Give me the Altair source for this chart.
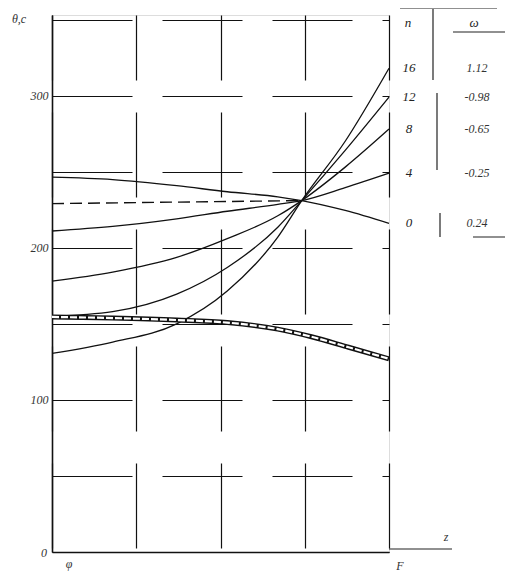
import altair as alt
import pandas as pd

# shared x samples (relative position along the axis)
x_pts = [0, 0.18, 0.37, 0.52, 0.67, 0.741, 0.87, 1.0]

# curves labelled by n
n_labels = ["16", "12", "8", "4", "0"]
w_labels = ["1.12", "-0.98", "-0.65", "-0.25", "0.24"]
curve_16 = [130.5, 138, 150, 171.5, 207, 231, 270, 318]
curve_12 = [155, 158, 169.5, 187, 213.5, 231, 264, 299]
curve_8 = [178, 184, 193.7, 206, 221, 231, 253, 278]
curve_4 = [211, 214, 219, 224, 228.5, 231, 239.5, 249]
curve_0 = [246.4, 244.8, 240.8, 236.8, 233.5, 231, 224.5, 216]

# double (hatched) curve
band_x = [0, 0.18, 0.37, 0.52, 0.67, 0.77, 0.88, 1.0]
band_y = [154.5, 153.8, 152.5, 150.8, 146.5, 141.5, 134.6, 127]

# dashed reference line
dash_x = [0, 0.741]
dash_y = [229, 231]

y_ticks = [0, 50, 100, 150, 200, 250, 300, 350]
x_ticks = [0, 0.25, 0.5, 0.75, 1.0]

curves = [curve_16, curve_12, curve_8, curve_4, curve_0]
rows = []
for lab, ys in zip(n_labels, curves):
    for xv, yv in zip(x_pts, ys):
        rows.append({"x": xv, "y": yv, "n": lab})
df = pd.DataFrame(rows)
band = pd.DataFrame({"x": band_x, "y": band_y})
dash = pd.DataFrame({"x": dash_x, "y": dash_y})
labels = pd.DataFrame({"n": n_labels, "w": w_labels, "y": [c[-1] for c in curves]})

FONT = "Liberation Serif"
xs = alt.Scale(domain=[0, 1], nice=False, zero=False)
ys = alt.Scale(domain=[0, 353], nice=False)

xax = alt.Axis(values=x_ticks, labels=False, ticks=False, title=None,
               grid=True, gridColor="#111", gridWidth=1.2, gridDash=[85, 32],
               gridDashOffset=20, domainColor="#111", domainWidth=1.5)
yax = alt.Axis(values=y_ticks, title=None, ticks=False, labelPadding=4,
               labelExpr="(datum.value == 100 || datum.value == 200 || datum.value == 300) ? datum.value : ''",
               labelFont=FONT, labelFontStyle="italic", labelFontSize=12, labelColor="#333",
               grid=True, gridColor="#111", gridWidth=1.2, gridDash=[80, 30],
               gridDashOffset=0, domainColor="#111", domainWidth=1.6)

base = alt.Chart(df).mark_line(color="#111", strokeWidth=1.3, interpolate="monotone").encode(
    x=alt.X("x:Q", scale=xs, axis=xax),
    y=alt.Y("y:Q", scale=ys, axis=yax),
    detail="n:N",
)

dashed = alt.Chart(dash).mark_line(color="#111", strokeWidth=1.4, strokeDash=[12, 6]).encode(
    x=alt.X("x:Q", scale=xs), y=alt.Y("y:Q", scale=ys))

band_outer = alt.Chart(band).mark_line(color="#111", strokeWidth=5, interpolate="monotone").encode(
    x=alt.X("x:Q", scale=xs), y=alt.Y("y:Q", scale=ys))
band_inner = alt.Chart(band).mark_line(color="#fff", strokeWidth=2.2, strokeDash=[7, 2],
                                      interpolate="monotone").encode(
    x=alt.X("x:Q", scale=xs), y=alt.Y("y:Q", scale=ys))

n_text = alt.Chart(labels).mark_text(font=FONT, fontStyle="italic", fontSize=13, align="center",
                                     baseline="middle", color="#222").encode(
    x=alt.value(357), y=alt.Y("y:Q", scale=ys), text="n:N")
w_text = alt.Chart(labels).mark_text(font=FONT, fontStyle="italic", fontSize=12, align="center",
                                     baseline="middle", color="#333").encode(
    x=alt.value(425), y=alt.Y("y:Q", scale=ys), text="w:N")

head = pd.DataFrame({"t": ["n", "ω"], "px": [356, 422]})
head_text = alt.Chart(head).mark_text(font=FONT, fontStyle="italic", fontSize=13, baseline="middle",
                                      color="#222").encode(
    x=alt.X("px:Q", scale=None), y=alt.value(8), text="t:N")

# table rules
rules = pd.DataFrame({"x1": [381, 385, 388, 348, 401, 421, 337],
                      "x2": [381, 385, 388, 445, 461, 461, 400],
                      "y1": [-6, 78, 198, -7, 17, 222, 534],
                      "y2": [65, 155, 222, -7, 17, 222, 534]})
rule_marks = alt.Chart(rules).mark_rule(color="#222", strokeWidth=1.2).encode(
    x=alt.X("x1:Q", scale=None), x2="x2:Q", y=alt.Y("y1:Q", scale=None), y2="y2:Q")

misc = pd.DataFrame({"t": ["θ,c", "0", "φ", "F", "z"],
                     "px": [-33, -8, 17, 348, 394],
                     "py": [4, 538, 549, 551, 522]})
misc_text = alt.Chart(misc).mark_text(font=FONT, fontStyle="italic", fontSize=12, color="#333",
                                      baseline="middle").encode(
    x=alt.X("px:Q", scale=None), y=alt.Y("py:Q", scale=None), text="t:N")

chart = alt.layer(base, dashed, band_outer, band_inner, n_text, w_text, head_text,
                  rule_marks, misc_text).properties(
    width=337, height=537,
    autosize=alt.AutoSizeParams(type="none"),
    padding={"left": 44, "top": 7, "right": 116, "bottom": 20},
).configure_view(stroke=None).configure(background="white")

chart.save("out.html", embed_options={"renderer": "svg", "actions": False})
